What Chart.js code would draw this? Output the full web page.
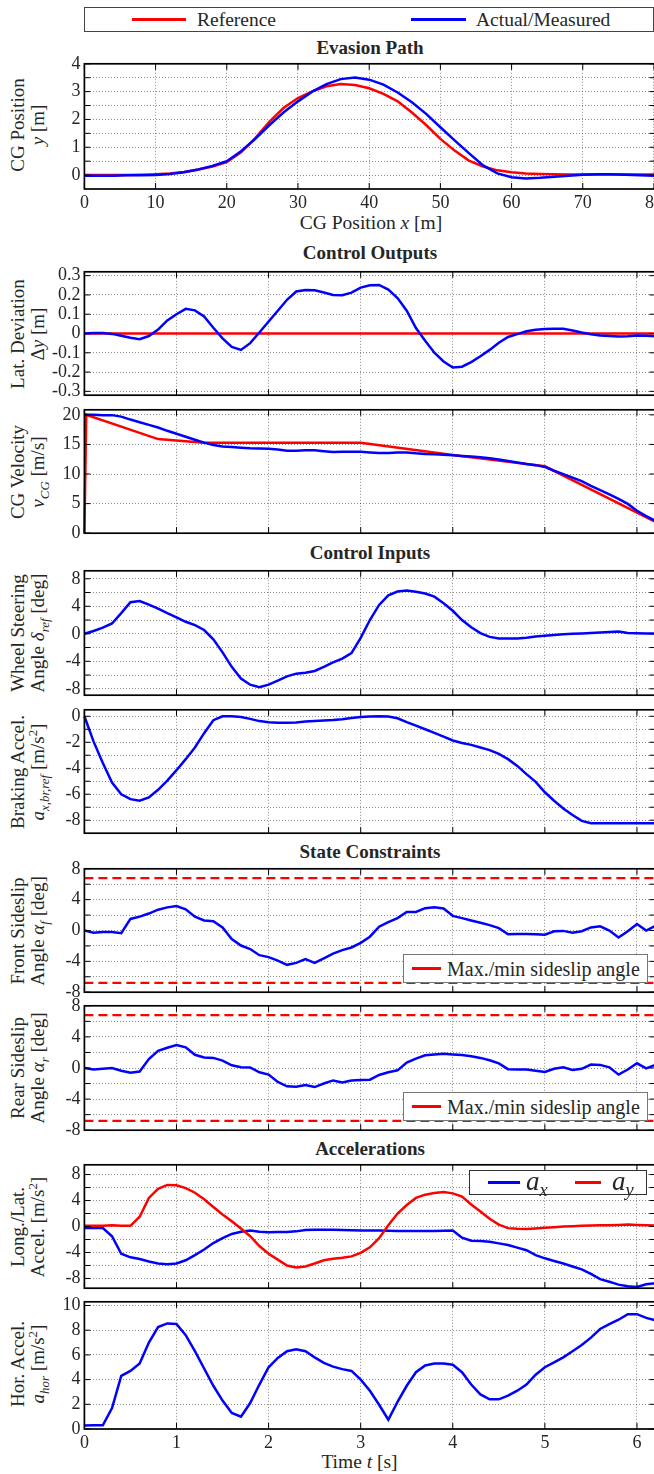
<!DOCTYPE html>
<html>
<head>
<meta charset="utf-8">
<script src="https://cdn.jsdelivr.net/npm/chart.js@4.4.0/dist/chart.umd.min.js"></script>
<style>
  html, body { margin: 0; padding: 0; background: #fff; overflow: hidden; }
  #fig { position: relative; width: 654px; height: 1474px; overflow: hidden; font-family: 'Liberation Serif', serif; color: #262626; }
  canvas { position: absolute; left: 0; }
  .title { position: absolute; left: 170px; width: 400px; height: 24px; line-height: 24px; text-align: center; font-weight: bold; font-size: 19px; }
  .xl { position: absolute; width: 300px; height: 24px; line-height: 24px; text-align: center; font-size: 19.5px; white-space: nowrap; }
  .yl { position: absolute; left: -82.5px; width: 220px; height: 40px; line-height: 20px; text-align: center; font-size: 19px; white-space: nowrap; transform: rotate(-90deg); }
  sub, sup { line-height: 0; font-size: 68%; }
  .leg { position: absolute; background: #fff; border: 1px solid #555; box-sizing: border-box; z-index: 5; white-space: nowrap; }
  .leg .ln { position: absolute; top: 50%; height: 3px; margin-top: -1.5px; }
  .leg .tx { position: absolute; top: 0; }
</style>
</head>
<body>
<div id="fig">
  <div class="leg" style="left:84px;top:7px;width:570px;height:25px;border-color:#444">
    <span class="ln" style="left:47px;width:54px;background:#ff0000"></span>
    <span class="tx" style="left:112px;line-height:24px;font-size:19.5px">Reference</span>
    <span class="ln" style="left:326px;width:55px;background:#0000ff"></span>
    <span class="tx" style="left:391px;line-height:24px;font-size:19.5px">Actual/Measured</span>
  </div>

  <div class="title" style="top:36px">Evasion Path</div>
  <div class="title" style="top:241px">Control Outputs</div>
  <div class="title" style="top:541px">Control Inputs</div>
  <div class="title" style="top:840px">State Constraints</div>
  <div class="title" style="top:1137px">Accelerations</div>

  <div class="xl" style="left:221px;top:211px">CG Position <i>x</i> [m]</div>
  <div class="xl" style="left:209.5px;top:1449.5px">Time <i>t</i> [s]</div>

  <div class="yl" style="top:105px">CG Position<br><i>y</i> [m]</div>
  <div class="yl" style="top:313.5px">Lat. Deviation<br>Δ<i>y</i> [m]</div>
  <div class="yl" style="top:451.5px">CG Velocity<br><i>v<sub>CG</sub></i> [m/s]</div>
  <div class="yl" style="top:613px">Wheel Steering<br>Angle <i>δ<sub>ref</sub></i> [deg]</div>
  <div class="yl" style="top:751.5px">Braking Accel.<br><i>a<sub>x,br,ref</sub></i> [m/s<sup>2</sup>]</div>
  <div class="yl" style="top:910.5px">Front Sideslip<br>Angle <i>α<sub>f</sub></i> [deg]</div>
  <div class="yl" style="top:1048px">Rear Sideslip<br>Angle <i>α<sub>r</sub></i> [deg]</div>
  <div class="yl" style="top:1206.5px">Long./Lat.<br>Accel. [m/s<sup>2</sup>]</div>
  <div class="yl" style="top:1344px">Hor. Accel.<br><i>a<sub>hor</sub></i> [m/s<sup>2</sup>]</div>

  <canvas id="c1"></canvas>
  <canvas id="c2"></canvas>
  <canvas id="c3"></canvas>
  <canvas id="c4"></canvas>
  <canvas id="c5"></canvas>
  <canvas id="c6"></canvas>
  <canvas id="c7"></canvas>
  <canvas id="c8"></canvas>
  <canvas id="c9"></canvas>

  <div class="leg" style="left:403px;top:954px;width:245px;height:29px;border-color:#777">
    <span class="ln" style="left:8px;width:29px;background:#ff0000"></span>
    <span class="tx" style="left:43px;line-height:28px;font-size:20px">Max./min sideslip angle</span>
  </div>
  <div class="leg" style="left:403px;top:1091.5px;width:245px;height:29px;border-color:#777">
    <span class="ln" style="left:8px;width:29px;background:#ff0000"></span>
    <span class="tx" style="left:43px;line-height:28px;font-size:20px">Max./min sideslip angle</span>
  </div>
  <div class="leg" style="left:469px;top:1170px;width:178px;height:25px;border-color:#333">
    <span class="ln" style="left:18px;width:32px;background:#0000ff"></span>
    <span class="tx" style="left:56px;line-height:20px;font-size:27px"><i>a<sub>x</sub></i></span>
    <span class="ln" style="left:105px;width:26px;background:#ff0000"></span>
    <span class="tx" style="left:142px;line-height:20px;font-size:27px"><i>a<sub>y</sub></i></span>
  </div>
</div>

<script>
// evasion path, x in m
const pathX = [0, 2, 4, 6, 8, 10, 12, 14, 16, 18, 20, 22, 24, 26, 28, 30, 32, 34, 36, 38,
  40, 42, 44, 46, 48, 50, 52, 54, 56, 58, 60, 62, 64, 66, 68, 70, 72, 74, 76, 78, 80];
const pathRef = [0, 0, 0, 0, 0.01, 0.03, 0.06, 0.11, 0.2, 0.31, 0.47, 0.82, 1.33, 1.92, 2.42, 2.77, 3.01, 3.19, 3.27, 3.24,
  3.12, 2.92, 2.65, 2.25, 1.8, 1.3, 0.88, 0.52, 0.31, 0.17, 0.1, 0.06, 0.04, 0.03, 0.02, 0.02, 0.02, 0.02, 0.02, 0.02, 0.02];
const pathAct = [-0.02, -0.02, -0.02, -0.01, -0.01, 0, 0.04, 0.1, 0.2, 0.33, 0.5, 0.86, 1.3, 1.8, 2.26, 2.65, 3.0, 3.27, 3.45, 3.51,
  3.43, 3.25, 2.97, 2.62, 2.2, 1.72, 1.25, 0.79, 0.35, 0.06, -0.08, -0.12, -0.1, -0.06, -0.02, 0.01, 0.03, 0.03, 0.01, -0.01, -0.02];

// time base in s
const time = [0, 0.1, 0.2, 0.3, 0.4, 0.5, 0.6, 0.7, 0.8, 0.9,
  1.0, 1.1, 1.2, 1.3, 1.4, 1.5, 1.6, 1.7, 1.8, 1.9,
  2.0, 2.1, 2.2, 2.3, 2.4, 2.5, 2.6, 2.7, 2.8, 2.9,
  3.0, 3.1, 3.2, 3.3, 3.4, 3.5, 3.6, 3.7, 3.8, 3.9,
  4.0, 4.1, 4.2, 4.3, 4.4, 4.5, 4.6, 4.7, 4.8, 4.9,
  5.0, 5.1, 5.2, 5.3, 5.4, 5.5, 5.6, 5.7, 5.8, 5.9,
  6.0, 6.1, 6.2];

const latDev = [0.000, 0.002, 0.003, -0.002, -0.012, -0.022, -0.030, -0.013, 0.020, 0.068,
  0.100, 0.128, 0.120, 0.088, 0.030, -0.025, -0.070, -0.085, -0.050, 0.005,
  0.062, 0.118, 0.175, 0.218, 0.226, 0.224, 0.213, 0.200, 0.198, 0.212,
  0.238, 0.250, 0.252, 0.228, 0.184, 0.118, 0.028, -0.038, -0.100, -0.145,
  -0.176, -0.172, -0.148, -0.118, -0.085, -0.048, -0.018, -0.003, 0.012, 0.020,
  0.023, 0.024, 0.025, 0.016, 0.005, -0.004, -0.010, -0.013, -0.016, -0.014,
  -0.010, -0.012, -0.014];
const latDevRef = [0, 0];
const latDevRefT = [0, 6.2];

const velRefT = [0, 0.02, 0.8, 1.3, 3.0, 4.0, 5.0, 6.2];
const velRef = [0, 20, 15.9, 15.3, 15.3, 13.2, 11.3, 1.9];
const velAct = [20.0, 20.0, 19.95, 19.95, 19.7, 19.2, 18.75, 18.3, 17.85, 17.3,
  16.8, 16.3, 15.8, 15.3, 14.9, 14.65, 14.55, 14.45, 14.35, 14.3,
  14.25, 14.15, 13.95, 13.95, 14.0, 14.0, 13.85, 13.7, 13.75, 13.75,
  13.75, 13.65, 13.55, 13.55, 13.65, 13.65, 13.5, 13.4, 13.35, 13.25,
  13.17, 13.05, 12.95, 12.85, 12.65, 12.45, 12.2, 11.95, 11.7, 11.5,
  11.2, 10.55, 9.98, 9.4, 8.8, 8.0, 7.26, 6.55, 5.8, 4.95,
  3.8, 2.9, 2.1];

const steer = [0.0, 0.4, 0.9, 1.5, 3.0, 4.6, 4.75, 4.25, 3.65, 3.0,
  2.4, 1.75, 1.25, 0.55, -0.8, -2.7, -4.8, -6.5, -7.4, -7.75,
  -7.4, -6.8, -6.2, -5.8, -5.65, -5.4, -4.8, -4.15, -3.6, -2.8,
  -0.6, 2.0, 4.2, 5.6, 6.15, 6.3, 6.1, 5.85, 5.4, 4.45,
  3.35, 2.0, 0.95, 0.1, -0.45, -0.68, -0.7, -0.67, -0.58, -0.4,
  -0.3, -0.18, -0.08, 0.0, 0.06, 0.12, 0.18, 0.25, 0.32, 0.1,
  0.08, 0.06, 0.03];

const brake = [0, -1.95, -3.6, -5.1, -6.0, -6.38, -6.5, -6.25, -5.66, -4.95,
  -4.15, -3.3, -2.4, -1.3, -0.3, 0.0, 0.0, -0.05, -0.2, -0.37,
  -0.46, -0.5, -0.49, -0.47, -0.41, -0.36, -0.33, -0.29, -0.22, -0.13,
  -0.06, -0.02, 0.0, -0.02, -0.15, -0.45, -0.72, -1.0, -1.27, -1.56,
  -1.86, -2.05, -2.2, -2.4, -2.6, -2.9, -3.3, -3.82, -4.45, -5.05,
  -5.85, -6.5, -7.1, -7.6, -8.05, -8.24, -8.24, -8.24, -8.24, -8.24,
  -8.24, -8.24, -8.24];

const alphaF = [0.0, -0.3, -0.2, -0.2, -0.35, 1.5, 1.8, 2.2, 2.7, 3.0,
  3.18, 2.75, 1.8, 1.3, 1.2, 0.4, -1.1, -1.95, -2.4, -3.2,
  -3.45, -3.9, -4.45, -4.2, -3.7, -4.2, -3.6, -3.0, -2.55, -2.2,
  -1.6, -0.8, 0.5, 1.1, 1.6, 2.4, 2.4, 2.9, 3.0, 2.85,
  1.9, 1.6, 1.3, 1.0, 0.7, 0.3, -0.5, -0.45, -0.45, -0.5,
  -0.55, -0.1, -0.05, -0.3, -0.1, 0.4, 0.55, 0.0, -0.9, -0.1,
  0.85, 0.0, 0.6];

const alphaR = [0.0, -0.2, -0.1, 0.0, -0.35, -0.6, -0.45, 1.15, 2.2, 2.6,
  2.95, 2.65, 1.7, 1.35, 1.3, 0.95, 0.35, 0.1, 0.08, -0.55,
  -0.85, -1.8, -2.35, -2.4, -2.2, -2.45, -2.0, -1.6, -1.85, -1.6,
  -1.55, -1.5, -0.9, -0.55, -0.3, 0.7, 1.2, 1.64, 1.75, 1.84,
  1.75, 1.68, 1.5, 1.3, 1.0, 0.6, -0.15, -0.2, -0.2, -0.35,
  -0.5, -0.1, 0.1, -0.25, -0.1, 0.45, 0.4, 0.08, -0.85, -0.2,
  0.6, -0.05, 0.4];

const alphaLimT = [0, 6.2];
const alphaMax = [6.8, 6.8];
const alphaMin = [-6.8, -6.8];

const accX = [-0.25, -0.25, -0.25, -1.5, -4.2, -4.75, -5.0, -5.4, -5.7, -5.8,
  -5.7, -5.2, -4.4, -3.55, -2.55, -1.8, -1.15, -0.8, -0.6, -0.8,
  -0.88, -0.86, -0.85, -0.75, -0.55, -0.5, -0.5, -0.5, -0.55, -0.58,
  -0.6, -0.6, -0.6, -0.65, -0.68, -0.7, -0.7, -0.7, -0.7, -0.65,
  -0.6, -1.72, -2.2, -2.25, -2.35, -2.6, -2.86, -3.25, -3.65, -4.4,
  -4.9, -5.3, -5.7, -6.15, -6.6, -7.3, -8.1, -8.5, -8.95, -9.2,
  -9.3, -8.9, -8.75];

const accY = [0.1, 0.1, 0.1, 0.2, 0.1, 0.1, 1.5, 4.4, 5.8, 6.4,
  6.35, 5.9, 5.2, 4.2, 3.0, 1.85, 0.8, -0.3, -1.5, -3.0,
  -4.2, -5.1, -6.0, -6.3, -6.15, -5.7, -5.2, -4.95, -4.8, -4.6,
  -4.05, -3.2, -1.8, 0.2, 2.0, 3.3, 4.4, 4.9, 5.15, 5.3,
  5.1, 4.6, 3.4, 2.3, 1.2, 0.3, -0.25, -0.35, -0.4, -0.3,
  -0.2, -0.1, 0.0, 0.05, 0.1, 0.15, 0.2, 0.2, 0.25, 0.3,
  0.25, 0.2, 0.15];

const accHor = [0.28, 0.3, 0.3, 1.7, 4.3, 4.7, 5.3, 7.0, 8.25, 8.55,
  8.5, 7.6, 6.3, 4.9, 3.5, 2.3, 1.3, 1.0, 2.1, 3.6,
  5.0, 5.75, 6.3, 6.45, 6.3, 5.8, 5.35, 5.05, 4.85, 4.7,
  4.0, 3.1, 1.96, 0.75, 2.2, 3.5, 4.6, 5.15, 5.3, 5.3,
  5.2, 4.6, 3.6, 2.8, 2.4, 2.4, 2.7, 3.1, 3.6, 4.4,
  5.0, 5.4, 5.8, 6.3, 6.8, 7.4, 8.1, 8.5, 8.85, 9.3,
  9.3, 9.0, 8.8];

// ticks / grid lines
const pathXGrid = [0, 10, 20, 30, 40, 50, 60, 70, 80];
const timeGrid = [0, 1, 2, 3, 4, 5, 6];
const pathYGrid = [0, 0.5, 1, 1.5, 2, 2.5, 3, 3.5, 4];
const pathYLabels = [0, 1, 2, 3, 4];
const latDevTicks = [-0.3, -0.2, -0.1, 0, 0.1, 0.2, 0.3];
const velTicks = [0, 5, 10, 15, 20];
const steerGrid = [-8, -6, -4, -2, 0, 2, 4, 6, 8];
const steerLabels = [-8, -4, 0, 4, 8];
const brakeGrid = [-8, -7, -6, -5, -4, -3, -2, -1, 0];
const brakeLabels = [-8, -6, -4, -2, 0];
const alphaGrid = [-8, -6, -4, -2, 0, 2, 4, 6, 8];
const alphaLabels = [-8, -4, 0, 4, 8];
const accGrid = [-8, -6, -4, -2, 0, 2, 4, 6, 8];
const accLabels = [-8, -4, 0, 4, 8];
const horTicks = [0, 2, 4, 6, 8, 10];

const RED = '#ff0000';
const BLUE = '#0000ff';
Chart.defaults.font.family = "'Liberation Serif', serif";
Chart.defaults.color = '#262626';

// closed box with inward tick marks, like the matlab axes
const boxPlugin = {
  id: 'box',
  afterDraw(chart) {
    const { ctx, chartArea: a, scales: { x, y } } = chart;
    ctx.save();
    ctx.strokeStyle = '#000';
    ctx.lineWidth = 1;
    ctx.beginPath();
    x.ticks.forEach(t => {
      const px = x.getPixelForValue(t.value);
      ctx.moveTo(px, a.bottom); ctx.lineTo(px, a.bottom - 6);
      ctx.moveTo(px, a.top); ctx.lineTo(px, a.top + 6);
    });
    y.ticks.forEach(t => {
      const py = y.getPixelForValue(t.value);
      ctx.moveTo(a.left, py); ctx.lineTo(a.left + 6, py);
      ctx.moveTo(a.right, py); ctx.lineTo(a.right - 6, py);
    });
    ctx.stroke();
    ctx.lineWidth = 1.7;
    ctx.strokeRect(a.left, a.top, a.right - a.left, a.bottom - a.top);
    ctx.restore();
  }
};

function line(xs, ys, color, extra) {
  return Object.assign({
    data: xs.map((x, i) => ({ x: x, y: ys[i] })),
    borderColor: color,
    borderWidth: 2.5,
    pointRadius: 0,
    tension: 0,
    fill: false,
    clip: false
  }, extra || {});
}

function axis(min, max, grid, labels, show, isX) {
  return {
    type: 'linear',
    min: min,
    max: max,
    afterBuildTicks: s => { s.ticks = grid.map(v => ({ value: v })); },
    afterFit: s => {
      if (isX) s.height = show ? 26 : 0;
      else s.width = 84.4;
    },
    ticks: {
      display: show,
      autoSkip: false,
      maxRotation: 0,
      padding: isX ? 3 : 4,
      font: { size: 18 },
      color: '#262626',
      callback: v => (labels.includes(v) ? String(v) : '')
    },
    grid: { color: 'rgba(0,0,0,0.45)', lineWidth: 1, drawTicks: false },
    border: { display: false, dash: [1, 2] }
  };
}

function panel(id, top, bottom, xCfg, yCfg, datasets, showX) {
  const cv = document.getElementById(id);
  const padTop = 12;
  const below = showX ? 26 : 12;
  cv.width = 680;
  cv.height = (bottom - top) + padTop + below;
  cv.style.top = (top - padTop) + 'px';
  new Chart(cv, {
    type: 'line',
    data: { datasets: datasets },
    options: {
      responsive: false,
      animation: false,
      events: [],
      layout: { padding: { top: padTop, right: 24.6, bottom: showX ? 0 : 12, left: 0 } },
      plugins: { legend: { display: false }, tooltip: { enabled: false } },
      scales: { x: xCfg, y: yCfg }
    },
    plugins: [boxPlugin]
  });
}

const tAxis = show => axis(0, 6.2, timeGrid, timeGrid, show, true);

panel('c1', 61, 189, axis(0, 80.2, pathXGrid, pathXGrid, true, true),
  axis(-0.5, 4, pathYGrid, pathYLabels, true, false),
  [line(pathX, pathAct, BLUE), line(pathX, pathRef, RED)], true);

panel('c2', 269, 398, tAxis(false),
  axis(-0.32, 0.32, latDevTicks, latDevTicks, true, false),
  [line(time, latDev, BLUE), line(latDevRefT, latDevRef, RED)], false);

panel('c3', 407, 536, tAxis(false),
  axis(0, 20.85, velTicks, velTicks, true, false),
  [line(time, velAct, BLUE), line(velRefT, velRef, RED)], false);

panel('c4', 568, 698, tAxis(false),
  axis(-8.93, 9.16, steerGrid, steerLabels, true, false),
  [line(time, steer, BLUE)], false);

panel('c5', 707, 836, tAxis(false),
  axis(-9, 0.5, brakeGrid, brakeLabels, true, false),
  [line(time, brake, BLUE)], false);

panel('c6', 866, 995, tAxis(false),
  axis(-8, 8, alphaGrid, alphaLabels, true, false),
  [line(time, alphaF, BLUE),
   line(alphaLimT, alphaMax, RED, { borderDash: [9, 5], borderWidth: 2.2 }),
   line(alphaLimT, alphaMin, RED, { borderDash: [9, 5], borderWidth: 2.2 })], false);

panel('c7', 1003, 1133, tAxis(false),
  axis(-8, 8, alphaGrid, alphaLabels, true, false),
  [line(time, alphaR, BLUE),
   line(alphaLimT, alphaMax, RED, { borderDash: [9, 5], borderWidth: 2.2 }),
   line(alphaLimT, alphaMin, RED, { borderDash: [9, 5], borderWidth: 2.2 })], false);

panel('c8', 1162, 1291, tAxis(false),
  axis(-9.5, 9.5, accGrid, accLabels, true, false),
  [line(time, accY, RED), line(time, accX, BLUE)], false);

panel('c9', 1299, 1429, tAxis(true),
  axis(0, 10.3, horTicks, horTicks, true, false),
  [line(time, accHor, BLUE)], true);
</script>
</body>
</html>
